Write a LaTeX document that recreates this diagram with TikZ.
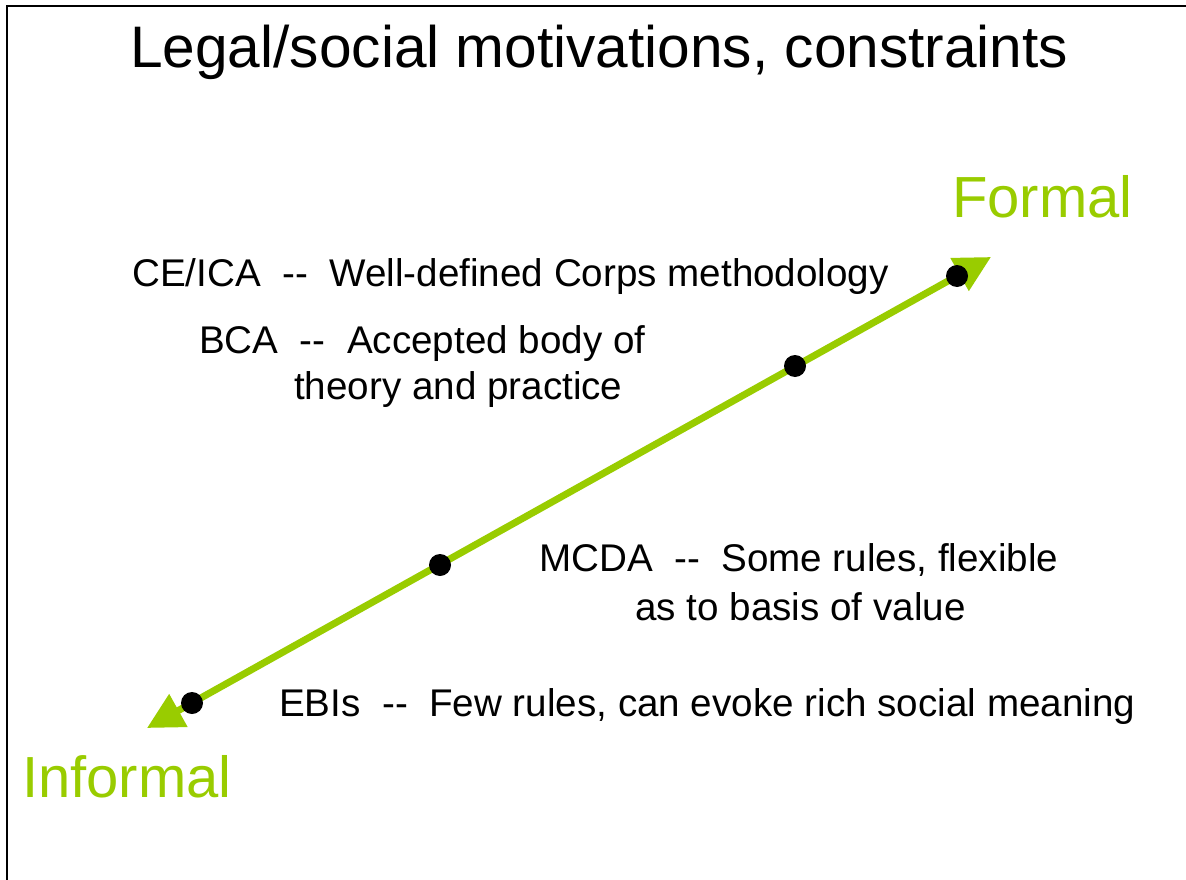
\documentclass[tikz,border=0pt]{standalone}
\usepackage{fontspec}
\setmainfont{Liberation Sans}
\usetikzlibrary{arrows.meta}
\definecolor{lgreen}{HTML}{99CC00}
\begin{document}
\begin{tikzpicture}[x=1pt,y=-1pt,
  txt/.style={inner sep=0pt,anchor=base west,font=\fontsize{38.6}{46}\selectfont},
  gtxt/.style={inner sep=0pt,anchor=base west,text=lgreen,font=\fontsize{58}{66}\selectfont},
  dot/.style={circle,fill=black,inner sep=0pt,minimum size=22pt},
  axis/.style={lgreen,line width=7pt,{Triangle[length=36pt,width=36pt]}-{Triangle[length=36pt,width=36pt]}}]
\useasboundingbox (0,0) rectangle (1186,880);
\draw[line width=2.8pt] (7,880) -- (7,6) -- (1186,6);
\node[inner sep=0pt,anchor=base west,font=\fontsize{58.6}{66}\selectfont] (title) at (130,68) {Legal/social motivations, constraints};
\coordinate (lo) at (147,728);
\coordinate (hi) at (991,257);
\draw[axis] (lo) -- (hi);
\node[dot] (d1) at (957,276) {};
\node[dot] (d2) at (795,366) {};
\node[dot] (d3) at (440,565) {};
\node[dot] (d4) at (192,703) {};
\node[gtxt] (formal) at (952,217) {Formal};
\node[gtxt] (informal) at (22,797) {Informal};
\node[txt] (ce) at (132,286) {CE/ICA\ \ -{}-\ \ Well-defined Corps methodology};
\node[txt] (bca1) at (199,353) {BCA\ \ -{}-\ \ Accepted body of};
\node[txt] (bca2) at (294,399) {theory and practice};
\node[txt] (mc1) at (539,571) {MCDA\ \ -{}-\ \ Some rules, flexible};
\node[txt] (mc2) at (635,620) {as to basis of value};
\node[txt] (ebi) at (279,716) {EBIs\ \ -{}-\ \ Few rules, can evoke rich social meaning};
\end{tikzpicture}
\end{document}
